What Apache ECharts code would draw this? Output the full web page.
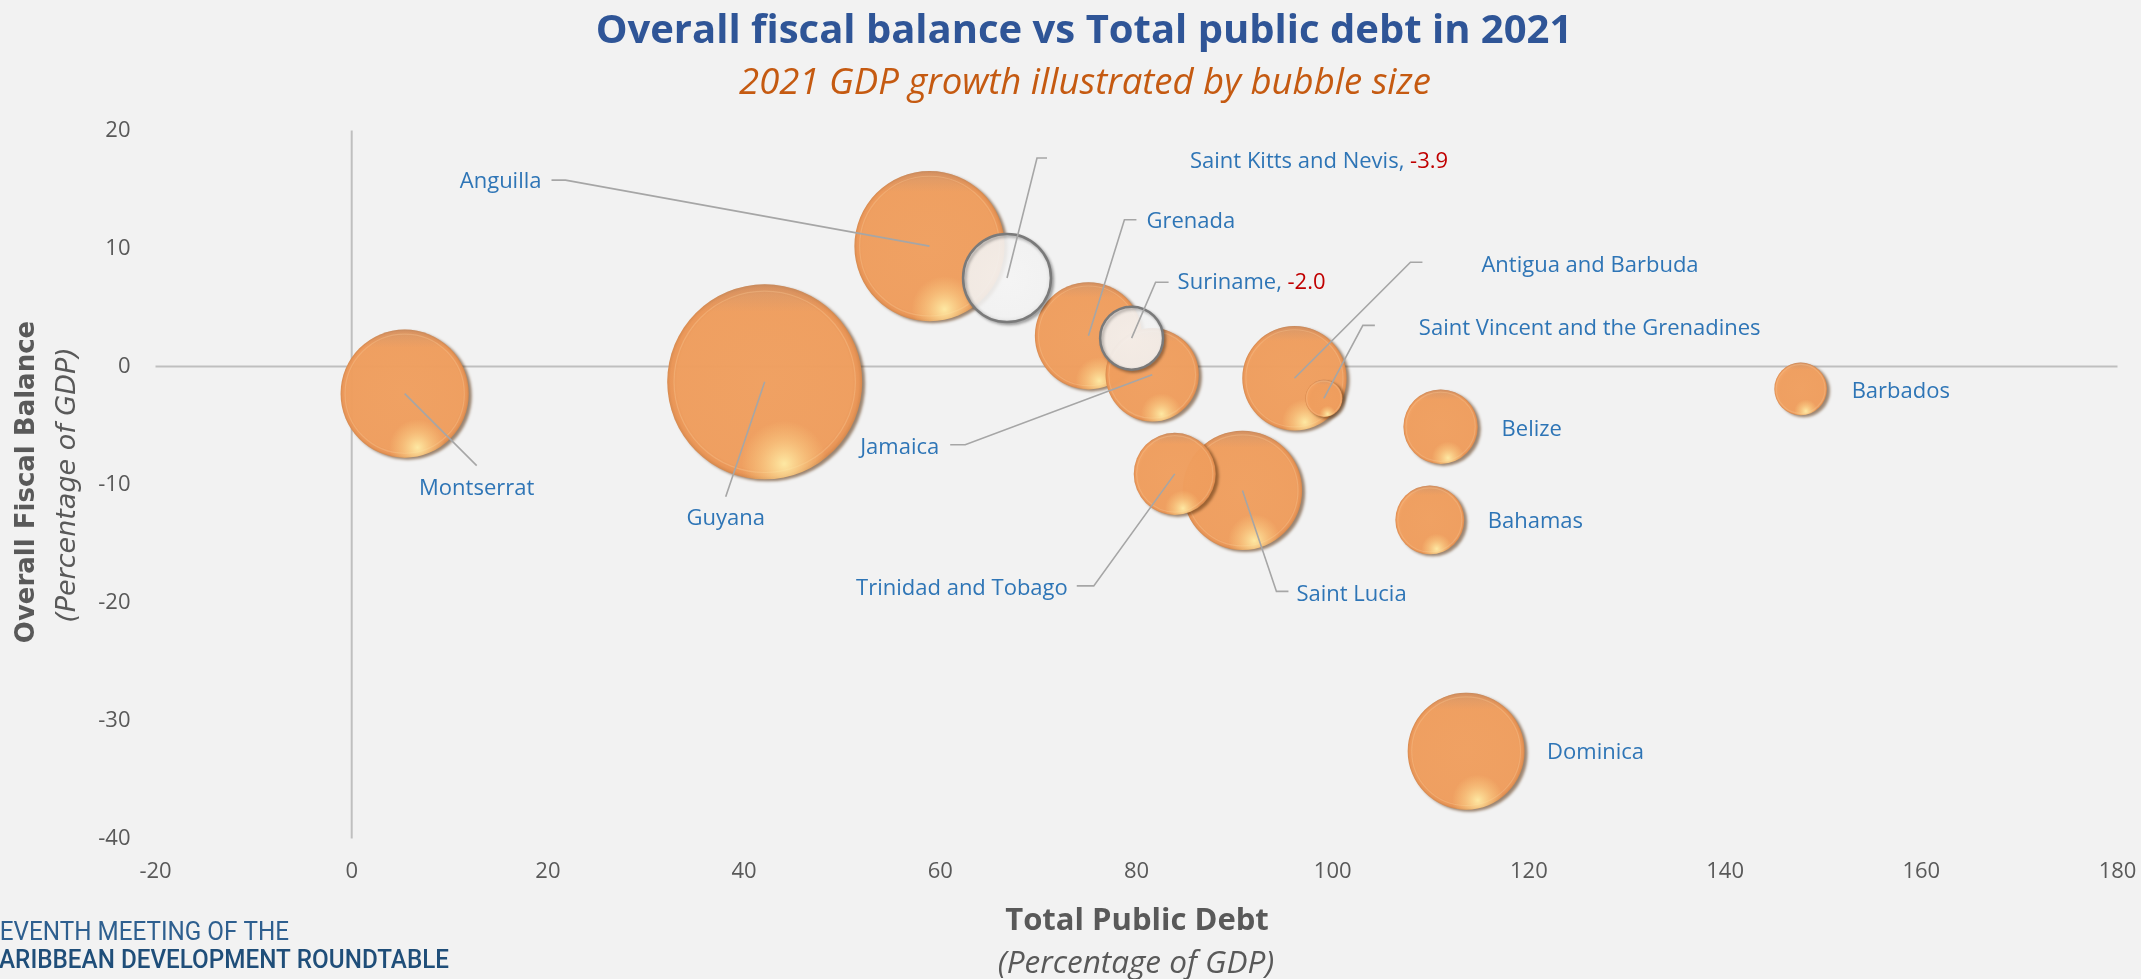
<!DOCTYPE html>
<html>
<head>
<meta charset="utf-8">
<script src="https://cdn.jsdelivr.net/npm/echarts@6/dist/echarts.min.js"></script>
<style>
html,body{margin:0;padding:0;background:#F2F2F2;overflow:hidden;}
#chart{width:2141px;height:979px;}
</style>
</head>
<body>
<div id="chart"></div>
<script>
// ---------------- DATA ----------------
const countries = ['Anguilla','Antigua and Barbuda','Bahamas','Barbados','Belize','Dominica','Grenada','Guyana','Jamaica','Montserrat','Saint Kitts and Nevis','Saint Lucia','Saint Vincent and the Grenadines','Suriname','Trinidad and Tobago'];
const totalPublicDebt = [58.9, 96.1, 109.9, 147.7, 111.0, 113.6, 75.1, 42.1, 81.6, 5.4, 66.8, 90.8, 99.1, 79.5, 83.9];
const overallFiscalBalance = [10.2, -1.0, -13.0, -1.9, -5.1, -32.6, 2.6, -1.3, -0.7, -2.3, 7.5, -10.5, -2.7, 2.4, -9.1];
const gdpGrowth2021 = [11.4, 5.5, 2.4, 1.4, 2.8, 6.9, 5.8, 19.2, 4.4, 8.3, -3.9, 7.2, 0.7, -2.0, 3.4];
const xTickValues = [-20, 0, 20, 40, 60, 80, 100, 120, 140, 160, 180];
const yTickValues = [-40, -30, -20, -10, 0, 10, 20];

// ---------------- LAYOUT / STYLE ----------------
const RADIUS_PER_SQRT = 22.25; // px radius per sqrt(|growth|)
// label placement (pixel offsets from the bubble centre) and leader-line elbows
const labelLayout = {
  'Anguilla': {line: [[-364, -66], [-378, -66]], dx: -388, dy: -64, align: 'right'},
  'Saint Kitts and Nevis': {line: [[30, -120], [40, -120]], dx: 183, dy: -116, align: 'left'},
  'Grenada': {line: [[36, -116], [48, -116]], dx: 58, dy: -114, align: 'left'},
  'Suriname': {line: [[24, -56], [37, -56]], dx: 46, dy: -55, align: 'left'},
  'Jamaica': {line: [[-187, 70], [-202, 70]], dx: -213, dy: 73, align: 'right'},
  'Antigua and Barbuda': {line: [[116, -116], [128, -116]], dx: 187, dy: -113, align: 'left'},
  'Saint Vincent and the Grenadines': {line: [[39, -73], [51, -73]], dx: 95, dy: -70, align: 'left'},
  'Belize': {line: null, dx: 61, dy: 3, align: 'left'},
  'Bahamas': {line: null, dx: 58, dy: 2, align: 'left'},
  'Barbados': {line: null, dx: 51, dy: 3, align: 'left'},
  'Dominica': {line: null, dx: 81, dy: 2, align: 'left'},
  'Guyana': {line: [[-39, 115]], dx: -39, dy: 137, align: 'center'},
  'Montserrat': {line: [[72, 72]], dx: 72, dy: 95, align: 'center'},
  'Trinidad and Tobago': {line: [[-81, 112], [-98, 112]], dx: -107, dy: 115, align: 'right'},
  'Saint Lucia': {line: [[34, 101], [46, 101]], dx: 54, dy: 104, align: 'left'}
};

const LABEL_BLUE = '#2E75B6';
const NEG_RED = '#C00000';
const AXIS_GREY = '#595959';
const FONT = '"Open Sans", "Noto Sans", sans-serif';

function radiusOf(g) { return RADIUS_PER_SQRT * Math.sqrt(Math.abs(g)); }

// draw order: larger bubbles first, negative (white) bubbles last
const drawOrder = countries.map((c, i) => i).sort((a, b) => {
  const na = gdpGrowth2021[a] < 0 ? 1 : 0, nb = gdpGrowth2021[b] < 0 ? 1 : 0;
  if (na !== nb) return na - nb;
  return Math.abs(gdpGrowth2021[b]) - Math.abs(gdpGrowth2021[a]);
});
const bubbleData = drawOrder.map(i => [totalPublicDebt[i], overallFiscalBalance[i], gdpGrowth2021[i], i]);

const xMin = xTickValues[0], xMax = xTickValues[xTickValues.length - 1];
const yMin = yTickValues[0], yMax = yTickValues[yTickValues.length - 1];

function renderBubble(params, api) {
  const p = api.coord([api.value(0), api.value(1)]);
  const g = api.value(2);
  const r = radiusOf(g);
  if (g >= 0) {
    return {
      type: 'group',
      children: [
        {type: 'circle', shape: {cx: p[0], cy: p[1], r: r},
          style: {
            fill: {type: 'radial', x: 0.5, y: 0.5, r: 0.5, colorStops: [
              {offset: 0, color: 'rgba(245,163,98,0.94)'},
              {offset: 0.9, color: 'rgba(244,161,96,0.94)'},
              {offset: 0.965, color: 'rgba(236,150,86,0.96)'},
              {offset: 1, color: 'rgba(214,136,76,0.98)'}]},
            shadowBlur: 3, shadowColor: 'rgba(90,50,15,0.6)', shadowOffsetX: 3, shadowOffsetY: 2
          }},
        {type: 'circle', shape: {cx: p[0], cy: p[1], r: r},
          style: {fill: {type: 'linear', x: 0, y: 0, x2: 0, y2: 1, colorStops: [
            {offset: 0, color: 'rgba(160,135,125,0.28)'},
            {offset: 0.14, color: 'rgba(160,135,125,0)'},
            {offset: 1, color: 'rgba(160,135,125,0)'}]}}},
        {type: 'circle', shape: {cx: p[0], cy: p[1], r: r * 0.93},
          style: {fill: 'none', stroke: 'rgba(250,200,150,0.35)', lineWidth: 1.2}},
        {type: 'circle', shape: {cx: p[0], cy: p[1], r: r},
          style: {fill: {type: 'radial', x: 0.6, y: 0.92, r: 0.22, colorStops: [
            {offset: 0, color: 'rgba(255,240,170,0.9)'},
            {offset: 0.55, color: 'rgba(255,225,150,0.4)'},
            {offset: 1, color: 'rgba(255,220,140,0)'}]}}}
      ]
    };
  }
  return {
    type: 'group',
    children: [
      {type: 'circle', shape: {cx: p[0], cy: p[1], r: r},
        style: {
          fill: {type: 'radial', x: 0.5, y: 0.5, r: 0.5, colorStops: [
            {offset: 0, color: 'rgba(255,255,255,0.86)'},
            {offset: 0.86, color: 'rgba(252,252,252,0.86)'},
            {offset: 0.95, color: 'rgba(236,236,236,0.9)'},
            {offset: 1, color: 'rgba(200,200,200,0.95)'}]},
          stroke: '#7A7A7A', lineWidth: 2.5,
          shadowBlur: 3, shadowColor: 'rgba(0,0,0,0.3)', shadowOffsetX: 2, shadowOffsetY: 2
        }}
    ]
  };
}

function renderLabel(params, api) {
  const p = api.coord([api.value(0), api.value(1)]);
  const g = api.value(2);
  const idx = api.value(3);
  const name = countries[idx];
  const L = labelLayout[name];
  const children = [];
  if (L.line) {
    const pts = [[p[0], p[1]]].concat(L.line.map(d => [p[0] + d[0], p[1] + d[1]]));
    children.push({type: 'polyline', shape: {points: pts},
      style: {stroke: '#A6A6A6', lineWidth: 1.6, fill: null}});
  }
  const txt = g < 0 ? '{n|' + name + ', }{v|' + g.toFixed(1) + '}' : '{n|' + name + '}';
  children.push({type: 'text', x: p[0] + L.dx, y: p[1] + L.dy,
    style: {text: txt, align: L.align, verticalAlign: 'middle',
      fontSize: 22, fontFamily: FONT, fill: LABEL_BLUE,
      rich: {n: {fill: LABEL_BLUE, fontSize: 22, fontFamily: FONT},
             v: {fill: NEG_RED, fontSize: 22, fontFamily: FONT}}}});
  return {type: 'group', children: children};
}

const chart = echarts.init(document.getElementById('chart'), null, {renderer: 'canvas'});
chart.setOption({
  backgroundColor: '#F2F2F2',
  animation: false,
  grid: {left: 155.5, top: 130.5, width: 1962, height: 708, containLabel: false},
  xAxis: {type: 'value', min: xMin, max: xMax, interval: xTickValues[1] - xTickValues[0],
    axisLine: {show: false}, axisTick: {show: false}, splitLine: {show: false},
    axisLabel: {fontSize: 22, color: AXIS_GREY, fontFamily: FONT, margin: 22}},
  yAxis: {type: 'value', min: yMin, max: yMax, interval: yTickValues[1] - yTickValues[0],
    axisLine: {show: false}, axisTick: {show: false}, splitLine: {show: false},
    axisLabel: {fontSize: 22, color: AXIS_GREY, fontFamily: FONT, margin: 25}},
  series: [
    {type: 'line', data: [[0, yMin], [0, yMax]], symbol: 'none', silent: true,
      lineStyle: {color: '#BFBFBF', width: 2}, z: 1},
    {type: 'line', data: [[xMin, 0], [xMax, 0]], symbol: 'none', silent: true,
      lineStyle: {color: '#BFBFBF', width: 2}, z: 1},
    {type: 'custom', data: bubbleData, renderItem: renderBubble, z: 2, clip: false},
    {type: 'custom', data: bubbleData, renderItem: renderLabel, z: 3, clip: false, silent: true}
  ],
  graphic: [
    {type: 'text', x: 1084, y: 32, style: {text: 'Overall fiscal balance vs Total public debt in 2021',
      align: 'center', verticalAlign: 'middle', fontSize: 40, fontWeight: 'bold', fontFamily: FONT, fill: '#2F5597'}},
    {type: 'text', x: 1085, y: 84, style: {text: '2021 GDP growth illustrated by bubble size',
      align: 'center', verticalAlign: 'middle', fontSize: 36.5, fontStyle: 'italic', fontFamily: FONT, fill: '#C55A11'}},
    {type: 'text', x: 1137, y: 921, style: {text: 'Total Public Debt',
      align: 'center', verticalAlign: 'middle', fontSize: 31, fontWeight: 'bold', fontFamily: FONT, fill: AXIS_GREY}},
    {type: 'text', x: 1136, y: 964, style: {text: '(Percentage of GDP)',
      align: 'center', verticalAlign: 'middle', fontSize: 31.5, fontStyle: 'italic', fontFamily: FONT, fill: AXIS_GREY}},
    {type: 'text', x: 27, y: 482, rotation: Math.PI / 2, style: {text: 'Overall Fiscal Balance',
      align: 'center', verticalAlign: 'middle', fontSize: 26, fontWeight: 'bold', fontFamily: '"DejaVu Sans", Verdana, sans-serif', fill: AXIS_GREY}},
    {type: 'text', x: 68, y: 485, rotation: Math.PI / 2, style: {text: '(Percentage of GDP)',
      align: 'center', verticalAlign: 'middle', fontSize: 27, fontStyle: 'italic', fontFamily: '"DejaVu Sans", Verdana, sans-serif', fill: AXIS_GREY}},
    {type: 'text', x: 289, y: 934, scaleX: 0.97, style: {text: 'SEVENTH MEETING OF THE',
      align: 'right', verticalAlign: 'middle', fontSize: 25, fontFamily: '"Liberation Sans Narrow", "Roboto", sans-serif', fill: '#2E5F8F'}},
    {type: 'text', x: 449, y: 962, scaleX: 0.97, style: {text: 'CARIBBEAN DEVELOPMENT ROUNDTABLE',
      align: 'right', verticalAlign: 'middle', fontSize: 25, fontWeight: 500, fontFamily: '"Liberation Sans Narrow", "Roboto", sans-serif', fill: '#1F4E79'}}
  ]
});
</script>
</body>
</html>
